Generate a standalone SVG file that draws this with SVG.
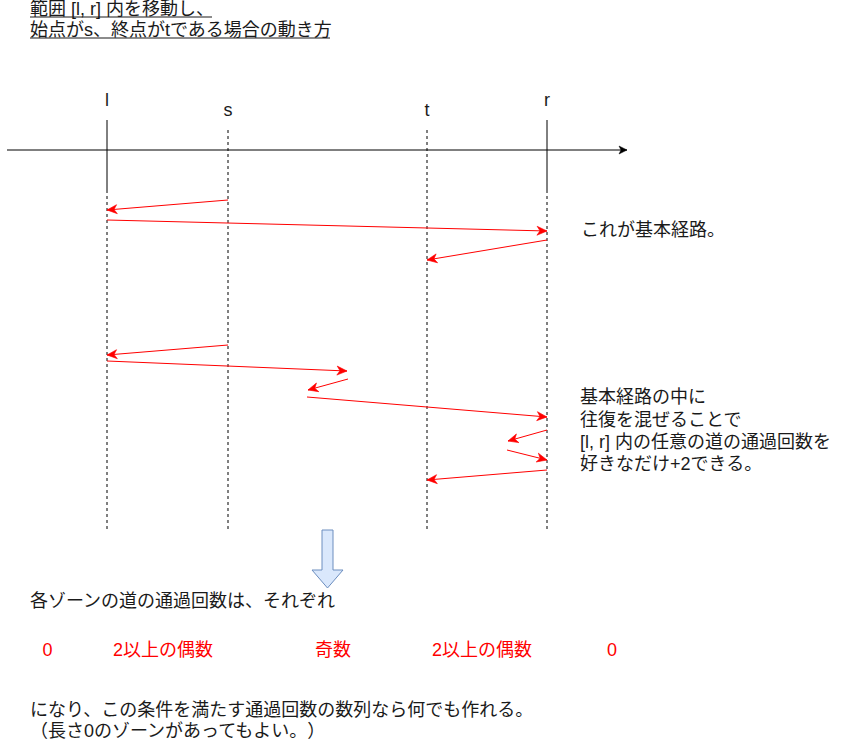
<svg xmlns="http://www.w3.org/2000/svg" width="858" height="740" viewBox="0 0 858 740">
  <style>
    text { font-family: "Liberation Sans", "Noto Sans CJK JP", sans-serif; font-size: 18px; fill: #1a1a1a; text-spacing-trim: space-all; }
    .red { fill: #ff0000; }
    .mid { text-anchor: middle; }
    .ul { stroke: #1a1a1a; stroke-width: 1.2; }
    .solid { stroke: #000000; stroke-width: 1; fill: none; }
    .dash { stroke: #000000; stroke-width: 1; fill: none; stroke-dasharray: 3 3; }
    .move { stroke: #ff0000; stroke-width: 1; fill: none; marker-end: url(#redArrow); }
    .axis { stroke: #000000; stroke-width: 1; fill: none; marker-end: url(#blackArrow); }
  </style>
  <defs>
    <marker id="redArrow" markerUnits="userSpaceOnUse" viewBox="-11 -6 12 12" refX="0" refY="0" markerWidth="12" markerHeight="12" orient="auto" overflow="visible">
      <path d="M0,0 L-10,-4.5 L-7,0 L-10,4.5 Z" fill="#ff0000" stroke="#ff0000" stroke-width="0.6"/>
    </marker>
    <marker id="blackArrow" markerUnits="userSpaceOnUse" viewBox="-11 -6 12 12" refX="0" refY="0" markerWidth="12" markerHeight="12" orient="auto" overflow="visible">
      <path d="M0,0 L-8,-4 L-6,0 L-8,4 Z" fill="#000000" stroke="#000000" stroke-width="0.5"/>
    </marker>
  </defs>
  <rect width="858" height="740" fill="#ffffff"/>

  <g id="title">
    <text x="30" y="15">範囲 [l, r] 内を移動し、</text>
    <line class="ul" x1="30" y1="17" x2="212" y2="17"/>
    <text x="30" y="36">始点がs、終点がtである場合の動き方</text>
    <line class="ul" x1="30" y1="38" x2="330" y2="38"/>
  </g>

  <g id="node-l">
    <text class="mid" x="107" y="106">l</text>
    <line class="solid" x1="107" y1="120" x2="107" y2="190"/>
    <line class="dash" x1="107" y1="190" x2="107" y2="530"/>
  </g>
  <g id="node-s">
    <text class="mid" x="228" y="116">s</text>
    <line class="dash" x1="228" y1="130" x2="228" y2="530"/>
  </g>
  <g id="node-t">
    <text class="mid" x="427" y="116">t</text>
    <line class="dash" x1="427" y1="130" x2="427" y2="530"/>
  </g>
  <g id="node-r">
    <text class="mid" x="547" y="106">r</text>
    <line class="solid" x1="547" y1="120" x2="547" y2="190"/>
    <line class="dash" x1="547" y1="190" x2="547" y2="530"/>
  </g>

  <g id="connectors">
    <line class="axis" x1="7" y1="150" x2="627" y2="150"/>
    <line class="move" x1="228" y1="200" x2="107" y2="210"/>
    <line class="move" x1="107" y1="220" x2="547" y2="231"/>
    <line class="move" x1="547" y1="240" x2="427" y2="260"/>
    <line class="move" x1="228" y1="345" x2="107" y2="355"/>
    <line class="move" x1="107" y1="361" x2="347" y2="371"/>
    <line class="move" x1="348" y1="379" x2="308" y2="390"/>
    <line class="move" x1="307" y1="397" x2="547" y2="417"/>
    <line class="move" x1="547" y1="430" x2="508" y2="441"/>
    <line class="move" x1="507" y1="450" x2="547" y2="460"/>
    <line class="move" x1="547" y1="470" x2="427" y2="480"/>
  </g>

  <g id="note-basic">
    <text x="581" y="236">これが基本経路。</text>
  </g>
  <g id="note-mix">
    <text x="580" y="403">基本経路の中に</text>
    <text x="580" y="425.5">往復を混ぜることで</text>
    <text x="580" y="448">[l, r] 内の任意の道の通過回数を</text>
    <text x="580" y="470">好きなだけ+2できる。</text>
  </g>

  <g id="down-arrow">
    <path d="M322,530 L333,530 L333,570 L343,570 L327.5,588 L312,570 L322,570 Z" fill="#dae8fc" stroke="#6c8ebf" stroke-width="1"/>
  </g>

  <g id="result-intro">
    <text x="30" y="607">各ゾーンの道の通過回数は、それぞれ</text>
  </g>
  <g id="zone-values">
    <text class="red mid" x="47.5" y="656">0</text>
    <text class="red mid" x="163" y="656">2以上の偶数</text>
    <text class="red mid" x="333" y="656">奇数</text>
    <text class="red mid" x="482" y="656">2以上の偶数</text>
    <text class="red mid" x="612" y="656">0</text>
  </g>
  <g id="conclusion">
    <text x="30" y="716">になり、この条件を満たす通過回数の数列なら何でも作れる。</text>
    <text x="30" y="737">（長さ0のゾーンがあってもよい。）</text>
  </g>
</svg>
